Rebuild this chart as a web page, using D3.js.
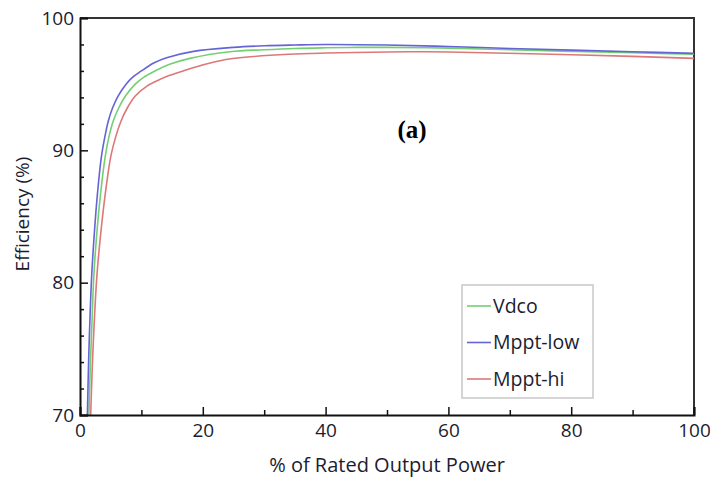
<!DOCTYPE html>
<html>
<head>
<meta charset="utf-8">
<script src="https://cdn.jsdelivr.net/npm/d3@7"></script>
<style>
  body { margin: 0; background: #fff; }
  svg { display: block; }
  .axis text { font-family: "Open Sans", sans-serif; font-size: 19px; fill: #1c1c30; }
  .axis path, .axis line { stroke: #111; }
</style>
</head>
<body>
<div id="chart"></div>
<script>
// Values
const seriesNames = ["Vdco", "Mppt-low", "Mppt-hi"];

const vdcoPower = [1.45, 1.7, 1.95, 2.25, 2.7, 3.3, 4.1, 4.7, 5.4, 6.3, 7.4, 9, 10.3, 12.2, 14.6, 17.9, 24.4, 30, 35, 40, 45, 50, 60, 70, 80, 90, 100];
const vdcoEff   = [70, 74, 77, 80.5, 83.5, 86.5, 89.5, 91, 92.2, 93.2, 94.1, 95, 95.5, 96, 96.5, 96.95, 97.45, 97.6, 97.7, 97.75, 97.78, 97.78, 97.72, 97.6, 97.48, 97.37, 97.26];

const lowPower = [1.2, 1.4, 1.6, 1.9, 2.3, 2.8, 3.45, 4.0, 4.6, 5.3, 6.2, 7.5, 8.5, 10, 12, 14.1, 18.5, 25, 30, 35, 40, 50, 60, 70, 80, 90, 100];
const lowEff   = [70, 74, 77, 80.5, 83.5, 86.5, 89.4, 90.9, 92.2, 93.2, 94.1, 95, 95.5, 96, 96.6, 97.0, 97.48, 97.78, 97.9, 97.96, 98.0, 97.96, 97.85, 97.7, 97.57, 97.45, 97.33];

const hiPower = [1.74, 2.03, 2.32, 2.75, 3.33, 4.06, 5.0, 5.8, 6.67, 7.7, 9.0, 10.9, 12.3, 14.5, 16.8, 19, 21.7, 24, 26, 34, 40, 50, 55, 60, 75, 90, 100];
const hiEff   = [70, 74, 77, 80.5, 83.5, 86.5, 89.5, 91, 92.2, 93.2, 94.1, 94.85, 95.2, 95.65, 96, 96.32, 96.65, 96.88, 97.0, 97.26, 97.35, 97.43, 97.45, 97.43, 97.28, 97.1, 96.95];

const xTicks = [0, 20, 40, 60, 80, 100];
const xMinorTicks = [10, 30, 50, 70, 90];
const yTicks = [70, 80, 90, 100];
const yMinorTicks = [72, 74, 76, 78, 82, 84, 86, 88, 92, 94, 96, 98];

const colors = ["#74cf74", "#6464d8", "#dc7878"];

const width = 710, height = 477;
const margin = {top: 18, right: 16, bottom: 62, left: 80};
const innerW = width - margin.left - margin.right;
const innerH = height - margin.top - margin.bottom;

const svg = d3.select("#chart").append("svg")
    .attr("width", width)
    .attr("height", height);

const x = d3.scaleLinear().domain([0, 100]).range([0, innerW]);
const y = d3.scaleLinear().domain([70, 100]).range([innerH, 0]);

const g = svg.append("g").attr("transform", `translate(${margin.left},${margin.top})`);

g.append("clipPath").attr("id", "plot-clip")
  .append("rect").attr("width", innerW).attr("height", innerH);

// Frame (top and right)
g.append("path")
    .attr("d", `M0,0H${innerW}V${innerH}`)
    .attr("fill", "none")
    .attr("stroke", "#333")
    .attr("stroke-width", 2);

// Series lines
const series = [
  {name: seriesNames[0], px: vdcoPower, py: vdcoEff, color: colors[0]},
  {name: seriesNames[1], px: lowPower, py: lowEff, color: colors[1]},
  {name: seriesNames[2], px: hiPower, py: hiEff, color: colors[2]}
];

const line = d3.line()
    .x(d => x(d[0]))
    .y(d => y(d[1]))
    .curve(d3.curveCatmullRom.alpha(0.5));

g.append("g").attr("clip-path", "url(#plot-clip)")
  .selectAll("path")
  .data([series[2], series[0], series[1]])
  .join("path")
    .attr("d", s => line(s.px.map((p, i) => [p, s.py[i]])))
    .attr("fill", "none")
    .attr("stroke", s => s.color)
    .attr("stroke-width", 1.6);

// Axes: ticks drawn inward
g.append("g").attr("class", "axis")
    .attr("transform", `translate(0,${innerH})`)
    .call(d3.axisBottom(x).tickValues(xTicks).tickSize(-8).tickPadding(9).tickFormat(d3.format("d")));
g.append("g").attr("class", "axis")
    .attr("transform", `translate(0,${innerH})`)
    .call(d3.axisBottom(x).tickValues(xMinorTicks).tickSize(-5).tickFormat(""))
    .select(".domain").remove();

g.append("g").attr("class", "axis")
    .call(d3.axisLeft(y).tickValues(yTicks).tickSize(-8).tickPadding(6).tickFormat(d3.format("d")));
g.append("g").attr("class", "axis")
    .call(d3.axisLeft(y).tickValues(yMinorTicks).tickSize(-4).tickFormat(""))
    .select(".domain").remove();

g.selectAll(".axis .domain").attr("stroke-width", 2);
g.selectAll(".axis line").attr("stroke-width", 1.5);

// Axis titles
svg.append("text")
    .attr("x", margin.left + innerW / 2)
    .attr("y", 472)
    .attr("text-anchor", "middle")
    .attr("font-family", "Open Sans, sans-serif")
    .attr("font-size", 20)
    .attr("fill", "#1c1c30")
    .text("% of Rated Output Power");

svg.append("text")
    .attr("transform", "translate(29,214) rotate(-90)")
    .attr("text-anchor", "middle")
    .attr("font-family", "Open Sans, sans-serif")
    .attr("font-size", 19)
    .attr("fill", "#1c1c30")
    .text("Efficiency (%)");

// Panel label
svg.append("text")
    .attr("x", 412)
    .attr("y", 138)
    .attr("text-anchor", "middle")
    .attr("font-family", "Liberation Serif, serif")
    .attr("font-weight", "bold")
    .attr("font-size", 25)
    .attr("fill", "#000")
    .text("(a)");

// Legend
const legend = svg.append("g").attr("transform", "translate(462,285)");
legend.append("rect")
    .attr("width", 131).attr("height", 113)
    .attr("fill", "#fff")
    .attr("stroke", "#c8c8c8")
    .attr("stroke-width", 1.5);

const rows = legend.selectAll("g.row")
  .data(series)
  .join("g")
    .attr("class", "row")
    .attr("transform", (d, i) => `translate(0,${21 + i * 36.5})`);
rows.append("line")
    .attr("x1", 5).attr("x2", 29)
    .attr("stroke", d => d.color)
    .attr("stroke-width", 1.6);
rows.append("text")
    .attr("x", 31)
    .attr("dy", "0.35em")
    .attr("font-family", "Open Sans, sans-serif")
    .attr("font-size", 19.5)
    .attr("fill", "#1c1c30")
    .text(d => d.name);
</script>
</body>
</html>
